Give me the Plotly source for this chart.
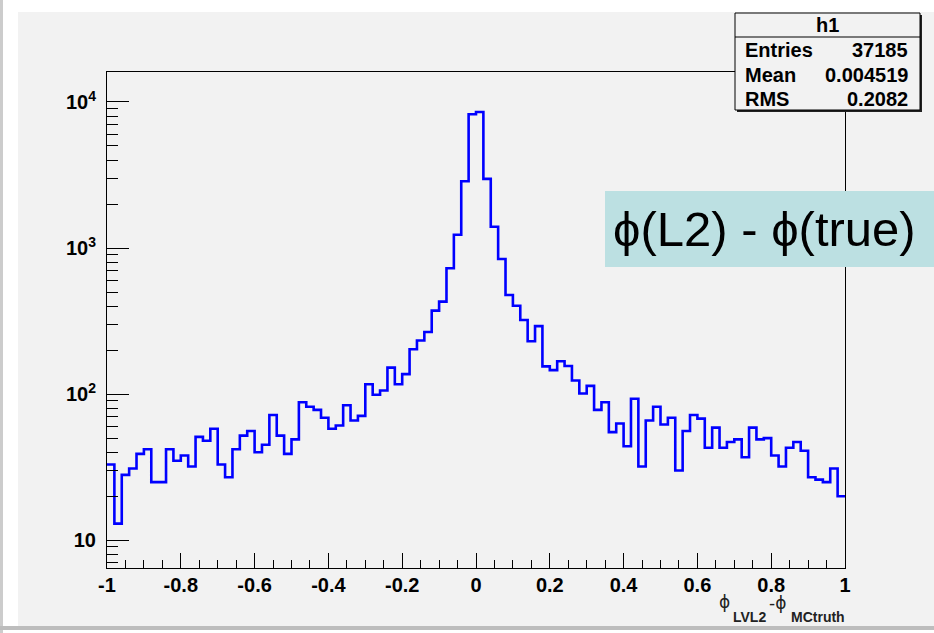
import plotly.graph_objects as go

# ---- data ----
x_min = -1.0
x_max = 1.0
n_bins = 100
counts = [33, 13, 28, 31, 39, 42, 25, 25, 42, 35,
          38, 32, 51, 48, 58, 33, 27, 42, 52, 56,
          40, 45, 72, 52, 39, 49, 88, 82, 78, 69,
          58, 61, 84, 66, 71, 117, 99, 106, 152, 117,
          137, 203, 233, 266, 373, 430, 728, 1233, 2863, 8230,
          8540, 2975, 1400, 842, 477, 403, 322, 230, 292, 155,
          146, 168, 156, 124, 101, 114, 78, 88, 55, 63,
          44, 93, 32, 66, 82, 62, 69, 30, 56, 72,
          68, 43, 59, 43, 47, 49, 37, 59, 49, 50,
          38, 32, 43, 47, 41, 27, 26, 25, 31, 20]
x_tick_vals = [-1, -0.8, -0.6, -0.4, -0.2, 0, 0.2, 0.4, 0.6, 0.8, 1]
x_tick_text = ["-1", "-0.8", "-0.6", "-0.4", "-0.2", "0", "0.2", "0.4", "0.6", "0.8", "1"]
y_tick_vals = [10, 100, 1000, 10000]
y_tick_text = ["10", "10<sup>2</sup>", "10<sup>3</sup>", "10<sup>4</sup>"]
stats_title = "h1"
stats_names = ["Entries", "Mean", "RMS"]
stats_values = ["37185", "0.004519", "0.2082"]
overlay_text = "ϕ(L2) - ϕ(true)"

# bin edges for step drawing
bw = (x_max - x_min) / n_bins
edges = [x_min + i * bw for i in range(n_bins + 1)]
ys = counts + [counts[-1]]

# ---- geometry (pixels) ----
W_IMG, H_IMG = 934, 633
L, R, T, B = 107, 845, 72, 568
PW, PH = R - L, B - T


def px(x):
    return (x - L) / PW


def py(y):
    return (B - y) / PH


fig = go.Figure()
fig.add_trace(go.Scatter(x=edges, y=ys, mode="lines", line=dict(color="#0000ff", width=2.6, shape="hv"),
                         hoverinfo="skip", showlegend=False))

shapes = []
# canvas grey background
shapes.append(dict(type="rect", xref="paper", yref="paper", x0=px(18), x1=px(934), y0=py(626), y1=py(12),
                   fillcolor="#f2f2f2", line=dict(width=0), layer="below"))
# left thin grey line
shapes.append(dict(type="rect", xref="paper", yref="paper", x0=px(0), x1=px(3), y0=py(633), y1=py(0),
                   fillcolor="#cccccc", line=dict(width=0), layer="below"))
# bottom grey bar
shapes.append(dict(type="rect", xref="paper", yref="paper", x0=px(0), x1=px(934), y0=py(630), y1=py(626),
                   fillcolor="#bdbdbd", line=dict(width=0), layer="below"))
# stats box shadow and box
shapes.append(dict(type="rect", xref="paper", yref="paper", x0=px(737), x1=px(922), y0=py(112), y1=py(15),
                   fillcolor="#222222", line=dict(width=0), layer="above"))
shapes.append(dict(type="rect", xref="paper", yref="paper", x0=px(735), x1=px(920), y0=py(110), y1=py(13),
                   fillcolor="#f2f2f2", line=dict(color="black", width=1), layer="above"))
shapes.append(dict(type="line", xref="paper", yref="paper", x0=px(735), x1=px(920), y0=py(37), y1=py(37),
                   line=dict(color="black", width=1), layer="above"))
# overlay label box
shapes.append(dict(type="rect", xref="paper", yref="paper", x0=px(605), x1=px(940), y0=py(267), y1=py(191),
                   fillcolor="#bce0e2", line=dict(width=0), layer="above"))
fig.update_layout(shapes=shapes)

ann = []
bold = dict(family="Liberation Sans, Arial, sans-serif", size=20, color="black", weight="bold")
ann.append(dict(xref="paper", yref="paper", x=px(827), y=py(25), text=stats_title, showarrow=False,
                xanchor="center", yanchor="middle", font=bold))
row_y = [50, 75, 99]
for name, val, yy in zip(stats_names, stats_values, row_y):
    ann.append(dict(xref="paper", yref="paper", x=px(743), y=py(yy), text=name, showarrow=False,
                    xanchor="left", yanchor="middle", font=bold))
    ann.append(dict(xref="paper", yref="paper", x=px(910), y=py(yy), text=val, showarrow=False,
                    xanchor="right", yanchor="middle", font=bold))
ann.append(dict(xref="paper", yref="paper", x=px(764), y=py(229), text=overlay_text, showarrow=False,
                xanchor="center", yanchor="middle",
                font=dict(family="Liberation Sans, Arial, sans-serif", size=49, color="black")))
# x-axis title pieces
phi_font = dict(family="DejaVu Sans, sans-serif", size=17, color="#222222")
sub_font = dict(family="Liberation Sans, Arial, sans-serif", size=14, color="#222222", weight="bold")
ann.append(dict(xref="paper", yref="paper", x=px(724), y=py(602), text="ϕ", showarrow=False,
                xanchor="center", yanchor="middle", font=phi_font))
ann.append(dict(xref="paper", yref="paper", x=px(731), y=py(617), text="LVL2", showarrow=False,
                xanchor="left", yanchor="middle", font=sub_font))
ann.append(dict(xref="paper", yref="paper", x=px(767), y=py(603), text="-ϕ", showarrow=False,
                xanchor="left", yanchor="middle", font=phi_font))
ann.append(dict(xref="paper", yref="paper", x=px(789), y=py(617), text="MCtruth", showarrow=False,
                xanchor="left", yanchor="middle", font=sub_font))
fig.update_layout(annotations=ann)

tick_font = dict(family="Liberation Sans, Arial, sans-serif", size=20, color="black", weight="bold")
fig.update_xaxes(range=[x_min, x_max], showgrid=False, zeroline=False, showline=True, linecolor="black",
                 linewidth=1, mirror=True, ticks="inside", ticklen=15, tickcolor="black", tickwidth=1,
                 tickvals=x_tick_vals, ticktext=x_tick_text, tickfont=tick_font, automargin=False,
                 ticklabelstandoff=-1,
                 minor=dict(ticks="inside", ticklen=8, dtick=0.05, tick0=-1, tickcolor="black", showgrid=False))
minor_y = [m * 10 ** e for e in range(0, 5) for m in range(2, 10)]
fig.update_yaxes(type="log", range=[0.81, 4.205], showgrid=False, zeroline=False, showline=True,
                 linecolor="black", linewidth=1, mirror=True, ticks="inside", ticklen=22, tickcolor="black",
                 tickwidth=1, tickvals=y_tick_vals, ticktext=y_tick_text, tickfont=tick_font, automargin=False,
                 ticklabelstandoff=6,
                 minor=dict(ticks="inside", ticklen=11, tickvals=minor_y, tickcolor="black", showgrid=False))

fig.update_layout(width=W_IMG, height=H_IMG, margin=dict(l=L, r=W_IMG - R, t=T, b=H_IMG - B),
                  paper_bgcolor="white", plot_bgcolor="rgba(0,0,0,0)", showlegend=False)

fig.write_html("out.html", config={"displayModeBar": False},
               post_script="document.body.style.margin='0px';document.body.style.overflow='hidden';")
